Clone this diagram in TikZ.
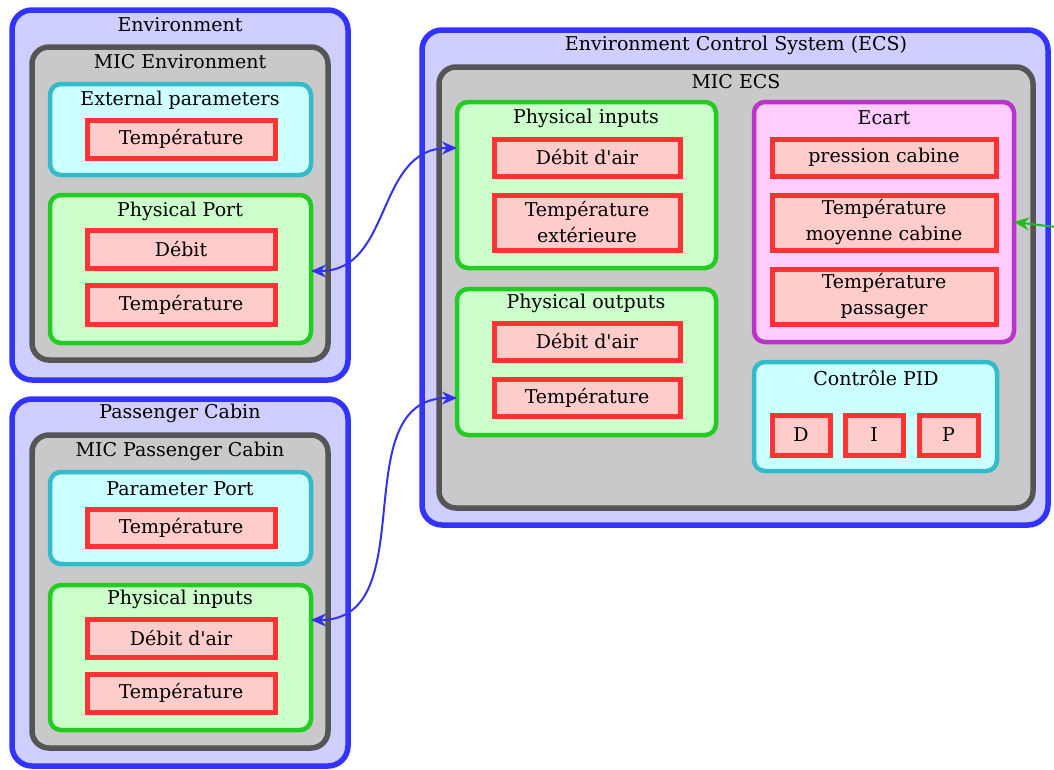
\documentclass[tikz,border=0pt]{standalone}
\usepackage{fontspec}
\setmainfont{DejaVu Serif}[Ligatures=TeXOff]
\usetikzlibrary{arrows.meta}
\definecolor{bluebd}{HTML}{3333FF}
\definecolor{bluefl}{HTML}{CFCFFF}
\definecolor{graybd}{HTML}{555555}
\definecolor{grayfl}{HTML}{C9C9C9}
\definecolor{cyanbd}{HTML}{33BBCC}
\definecolor{cyanfl}{HTML}{CCFFFF}
\definecolor{greenbd}{HTML}{22CC22}
\definecolor{greenfl}{HTML}{CCFFCC}
\definecolor{redbd}{HTML}{FF3333}
\definecolor{redfl}{HTML}{FFCCCC}
\definecolor{purpbd}{HTML}{BB33CC}
\definecolor{purpfl}{HTML}{FFCCFF}
\definecolor{arrblue}{HTML}{3333EE}
\definecolor{arrgreen}{HTML}{22BB22}
\newcommand\mybx[6]{\node[#1,anchor=north west,minimum width={#5pt-#3pt},minimum height={#6pt-#4pt}] (#2) at (#3,#4) {};}
\newcommand\myitem[7]{\node[item,anchor=center,minimum width={#5pt-#3pt},minimum height={#6pt-#4pt}] (#2) at ({(#3+#5)/2},{(#4+#6)/2}) {#7};}
\tikzset{
  base/.style={inner sep=0pt,outer sep=0pt},
  outerbox/.style={base,draw=bluebd,fill=bluefl,line width=5.5pt,rounded corners=20pt},
  micbox/.style={base,draw=graybd,fill=grayfl,line width=5.5pt,rounded corners=17pt},
  cyanbox/.style={base,draw=cyanbd,fill=cyanfl,line width=4.5pt,rounded corners=11pt},
  greenbox/.style={base,draw=greenbd,fill=greenfl,line width=4.5pt,rounded corners=11pt},
  purpbox/.style={base,draw=purpbd,fill=purpfl,line width=4.5pt,rounded corners=11pt},
  item/.style={base,draw=redbd,fill=redfl,line width=5pt,align=center,font=\fontsize{19}{26}\selectfont},
  ttl/.style={inner sep=0pt,font=\fontsize{19}{22}\selectfont},
  conn/.style={draw=arrblue,line width=2pt,arrows={Stealth[length=15pt,width=13pt]-Stealth[length=15pt,width=13pt]}},
  gconn/.style={draw=arrgreen,line width=2pt,arrows={-Stealth[length=15pt,width=13pt]}}
}
\begin{document}
\begin{tikzpicture}[x=1pt,y=-1pt]
\useasboundingbox (0,0) rectangle (1054,769);
% Environment
\mybx{outerbox}{env}{12}{10}{348}{380}
\mybx{micbox}{micenv}{32}{47}{328}{360}
\mybx{cyanbox}{ext}{50}{84}{311}{175}
\mybx{greenbox}{pport}{50}{195}{311}{343}
\node[ttl] (envt) at (180,25) {Environment};
\node[ttl] (micenvt) at (180,62) {MIC Environment};
\node[ttl] (extt) at (180,100) {External parameters};
\node[ttl] (pportt) at (180,211) {Physical Port};
\myitem{}{extT}{87}{120}{275}{158}{Température}
\myitem{}{ppD}{87}{230}{275}{268}{Débit}
\myitem{}{ppT}{87}{285}{275}{324}{Température}
% Passenger cabin
\mybx{outerbox}{cab}{12}{399}{348}{766}
\mybx{micbox}{miccab}{32}{435}{328}{748}
\mybx{cyanbox}{parp}{50}{472}{311}{564}
\mybx{greenbox}{pin}{50}{585}{311}{730}
\node[ttl] (cabt) at (180,413) {Passenger Cabin};
\node[ttl] (miccabt) at (180,451) {MIC Passenger Cabin};
\node[ttl] (parpt) at (180,489) {Parameter Port};
\node[ttl] (pint) at (180,599) {Physical inputs};
\myitem{}{parpT}{87}{509}{275}{546}{Température}
\myitem{}{pinD}{87}{619}{275}{657}{Débit d'air}
\myitem{}{pinT}{87}{674}{275}{712}{Température}
% ECS
\mybx{outerbox}{ecs}{422}{30}{1048}{525}
\mybx{micbox}{micecs}{439}{67}{1033}{508}
\mybx{greenbox}{ecsin}{457}{102}{716}{268}
\mybx{greenbox}{ecsout}{457}{289}{716}{435}
\mybx{purpbox}{ecart}{754}{102}{1014}{342}
\mybx{cyanbox}{pid}{754}{362}{997}{471}
\node[ttl] (ecst) at (736,45) {Environment Control System (ECS)};
\node[ttl] (micecst) at (736,82) {MIC ECS};
\node[ttl] (ecsint) at (586,118) {Physical inputs};
\node[ttl] (ecsoutt) at (586,303) {Physical outputs};
\node[ttl] (ecartt) at (884,118) {Ecart};
\node[ttl] (pidt) at (876,378) {Contrôle PID};
\myitem{}{ecsinD}{494}{139}{680}{176}{Débit d'air}
\myitem{}{ecsinT}{494}{195}{680}{250}{Température\\extérieure}
\myitem{}{ecsoutD}{494}{323}{680}{360}{Débit d'air}
\myitem{}{ecsoutT}{494}{379}{680}{416}{Température}
\myitem{}{ecP}{772}{139}{996}{176}{pression cabine}
\myitem{}{ecM}{772}{195}{996}{250}{Température\\moyenne cabine}
\myitem{}{ecT}{772}{269}{996}{324}{Température\\passager}
\myitem{}{pidD}{772}{415}{830}{455}{D}
\myitem{}{pidI}{845}{415}{903}{455}{I}
\myitem{}{pidP}{919}{415}{978}{455}{P}
% connectors
\draw[conn] ([yshift=-2pt]pport.east) to[out=0,in=180,looseness=1.1] ([yshift=-46pt]ecsin.north west);
\draw[conn] ([yshift=-35pt]pin.north east) to[out=0,in=180,looseness=1.1] ([yshift=-109pt]ecsout.north west);
\coordinate (gfree) at (1056,227);
\draw[gconn] (gfree) -- (ecart.east);
\end{tikzpicture}
\end{document}
